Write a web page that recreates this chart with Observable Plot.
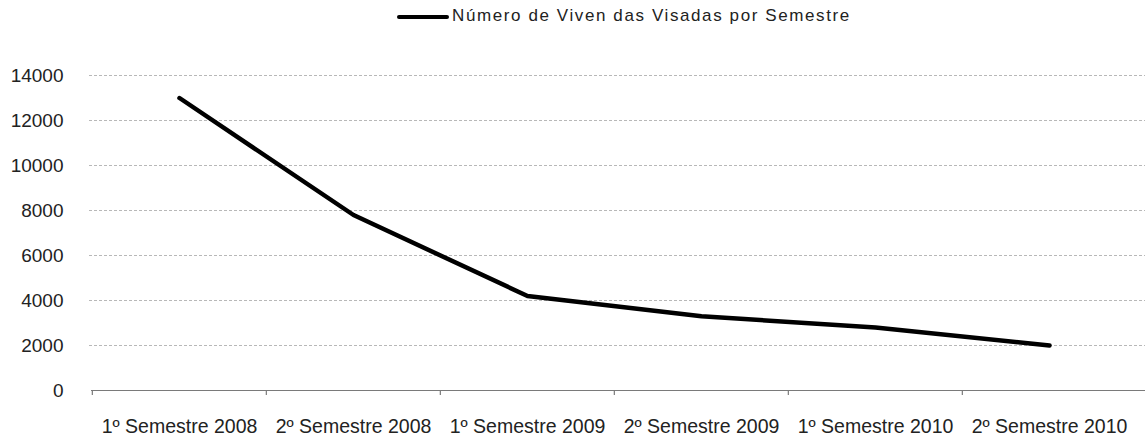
<!DOCTYPE html>
<html>
<head>
<meta charset="utf-8">
<script src="https://cdn.jsdelivr.net/npm/d3@7"></script>
<script src="https://cdn.jsdelivr.net/npm/@observablehq/plot@0.6"></script>
<style>
  html, body { margin: 0; padding: 0; background: #fff; }
  body { width: 1145px; height: 439px; overflow: hidden; font-family: "Liberation Sans", Arial, sans-serif; }
  #legend { height: 34px; position: relative; }
  #legend .sw { position: absolute; left: 397px; top: 15px; width: 52px; height: 4px; background: #000; border-radius: 2px; }
  #legend .tx { position: absolute; left: 452px; top: 6px; font-size: 17px; letter-spacing: 1.6px; color: #222; white-space: pre; }
</style>
</head>
<body>
<div id="legend"><div class="sw"></div><div class="tx">Número de Viven das Visadas por Semestre</div></div>
<div id="chart"></div>
<script>
const categories = ["1º Semestre 2008", "2º Semestre 2008", "1º Semestre 2009", "2º Semestre 2009", "1º Semestre 2010", "2º Semestre 2010"];
const values = [13000, 7800, 4200, 3300, 2800, 2000];
const yTicks = [0, 2000, 4000, 6000, 8000, 10000, 12000, 14000];
const seriesName = "Número de Viven das Visadas por Semestre";

const data = categories.map((c, i) => ({cat: c, v: values[i]}));
const x0 = 91, x1 = 1137;
const bw = (x1 - x0) / categories.length;

const chart = Plot.plot({
  width: 1145,
  height: 405,
  marginTop: 41,
  marginBottom: 49,
  marginLeft: 91,
  marginRight: 0,
  style: {fontFamily: "'Liberation Sans', Arial, sans-serif", color: "#222", background: "#fff"},
  x: {type: "band", domain: categories, range: [x0, x1], padding: 0, align: 0.5},
  y: {domain: [0, 14000], range: [356, 41]},
  marks: [
    Plot.ruleY(yTicks.filter(d => d > 0), {stroke: "#b8b8b8", strokeWidth: 1, strokeDasharray: "3,2", insetLeft: -2}),
    Plot.ruleY([0], {stroke: "#7a7a7a", strokeWidth: 1.2}),
    Plot.ruleX(categories, {x: d => d, dx: -bw / 2, stroke: "#7a7a7a", strokeWidth: 1.2, insetTop: 315, insetBottom: -5}),
    Plot.axisY({ticks: yTicks, tickSize: 0, tickPadding: 28, fontSize: 19, label: null, tickFormat: d => String(d)}),
    Plot.axisX({tickSize: 0, tickPadding: 29, fontSize: 19.5, label: null}),
    Plot.line(data, {x: "cat", y: "v", stroke: "#000", strokeWidth: 4.5, strokeLinecap: "round", strokeLinejoin: "round", title: () => seriesName})
  ]
});
document.getElementById("chart").appendChild(chart);
</script>
</body>
</html>
